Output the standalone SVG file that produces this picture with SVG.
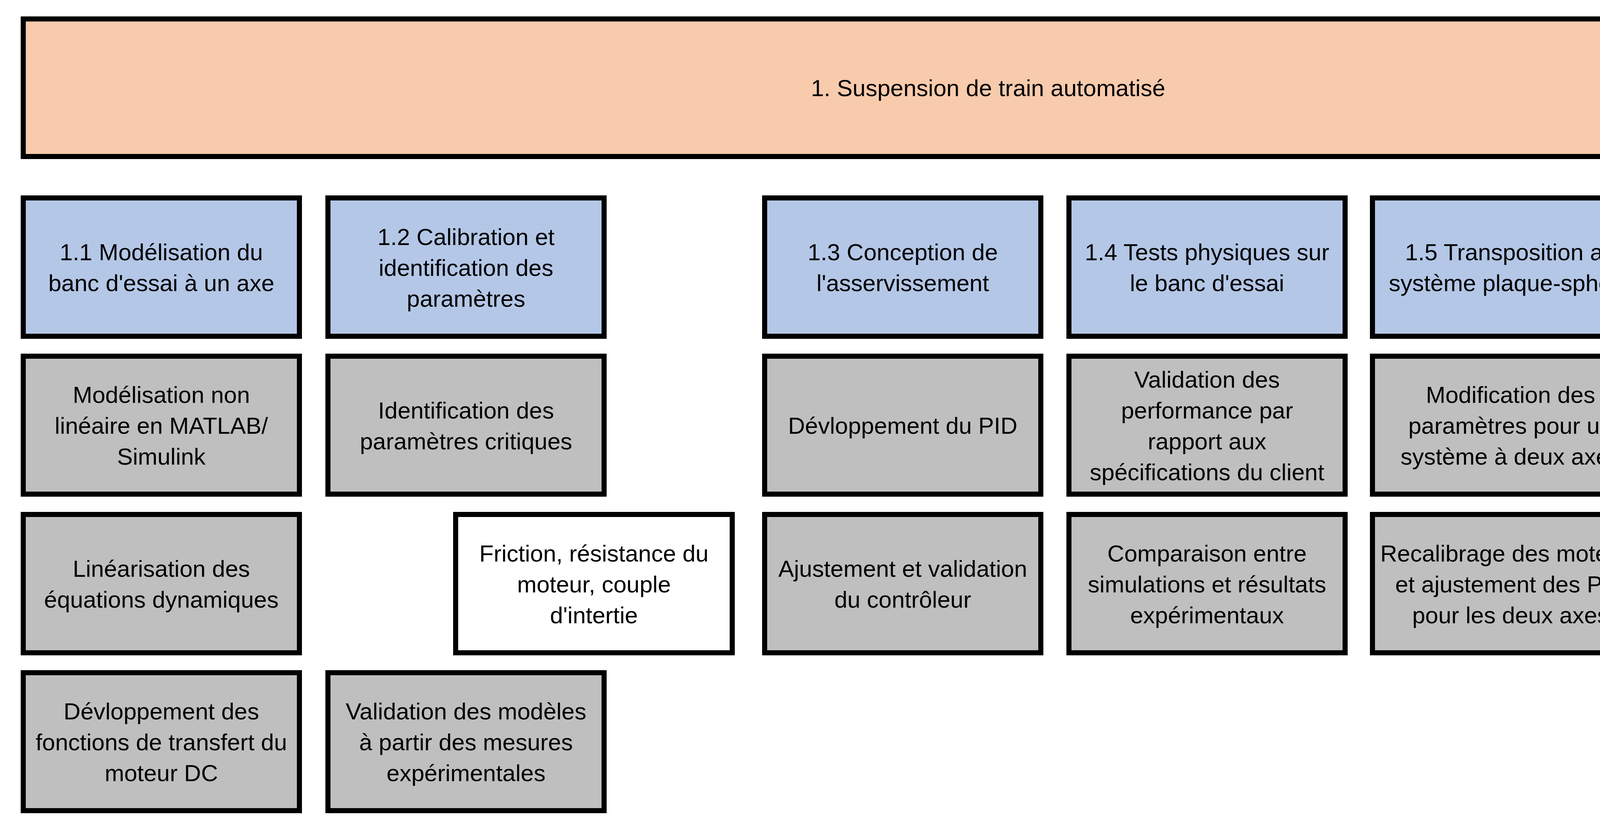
<svg xmlns="http://www.w3.org/2000/svg" width="5378" height="2124" viewBox="0 0 5378 2124">
<style>
rect{stroke:#000;stroke-width:13}
.top{fill:#F8CBAD}
.blue{fill:#B4C7E7}
.gray{fill:#BFBFBF}
.white{fill:#FFFFFF}
text{font-family:"Liberation Sans",Arial,sans-serif;font-size:60px;fill:#000;text-anchor:middle}
</style>
<rect x="0" y="0" width="5378" height="2124" style="fill:#fff;stroke:none"/>
<g id="connectors"/>
<g id="n1"><rect class="top" x="59.5" y="48.5" width="4940" height="352"/><text x="2529.5" y="246">1. Suspension de train automatisé</text></g>

<g id="n1_1"><rect class="blue" x="59.5" y="506.5" width="707" height="354"/><text><tspan x="413" y="666">1.1 Modélisation du</tspan><tspan x="413" y="745">banc d'essai à un axe</tspan></text></g>
<g id="n1_2"><rect class="blue" x="839.5" y="506.5" width="707" height="354"/><text><tspan x="1193" y="626.5">1.2 Calibration et</tspan><tspan x="1193" y="705.5">identification des</tspan><tspan x="1193" y="784.5">paramètres</tspan></text></g>
<g id="n1_3"><rect class="blue" x="1957.5" y="506.5" width="707" height="354"/><text><tspan x="2311" y="666">1.3 Conception de</tspan><tspan x="2311" y="745">l'asservissement</tspan></text></g>
<g id="n1_4"><rect class="blue" x="2736.5" y="506.5" width="707" height="354"/><text><tspan x="3090" y="666">1.4 Tests physiques sur</tspan><tspan x="3090" y="745">le banc d'essai</tspan></text></g>
<g id="n1_5"><rect class="blue" x="3513.5" y="506.5" width="707" height="354"/><text><tspan x="3867" y="666">1.5 Transposition au</tspan><tspan x="3867" y="745">système plaque-sphère</tspan></text></g>
<g id="n1_6"><rect class="blue" x="4294.5" y="506.5" width="707" height="354"/><text x="4648" y="705.5">1.6 Documentation</text></g>

<g id="n1_1_1"><rect class="gray" x="59.5" y="911.5" width="707" height="353"/><text><tspan x="413" y="1031">Modélisation non</tspan><tspan x="413" y="1110">linéaire en MATLAB/</tspan><tspan x="413" y="1189">Simulink</tspan></text></g>
<g id="n1_2_1"><rect class="gray" x="839.5" y="911.5" width="707" height="353"/><text><tspan x="1193" y="1070.5">Identification des</tspan><tspan x="1193" y="1149.5">paramètres critiques</tspan></text></g>
<g id="n1_3_1"><rect class="gray" x="1957.5" y="911.5" width="707" height="353"/><text x="2311" y="1110">Dévloppement du PID</text></g>
<g id="n1_4_1"><rect class="gray" x="2736.5" y="911.5" width="707" height="353"/><text><tspan x="3090" y="991.5">Validation des</tspan><tspan x="3090" y="1070.5">performance par</tspan><tspan x="3090" y="1149.5">rapport aux</tspan><tspan x="3090" y="1228.5">spécifications du client</tspan></text></g>
<g id="n1_5_1"><rect class="gray" x="3513.5" y="911.5" width="707" height="353"/><text><tspan x="3867" y="1031">Modification des</tspan><tspan x="3867" y="1110">paramètres pour un</tspan><tspan x="3867" y="1189">système à deux axes</tspan></text></g>
<g id="n1_6_1"><rect class="gray" x="4294.5" y="911.5" width="707" height="353"/><text><tspan x="4648" y="1070.5">Production de rapport</tspan><tspan x="4648" y="1149.5">pour chaque phase</tspan></text></g>

<g id="n1_1_2"><rect class="gray" x="59.5" y="1316.5" width="707" height="354"/><text><tspan x="413" y="1476">Linéarisation des</tspan><tspan x="413" y="1555">équations dynamiques</tspan></text></g>
<g id="n1_2_note"><rect class="white" x="1166.5" y="1316.5" width="708" height="354"/><text><tspan x="1520.5" y="1436.5">Friction, résistance du</tspan><tspan x="1520.5" y="1515.5">moteur, couple</tspan><tspan x="1520.5" y="1594.5">d'intertie</tspan></text></g>
<g id="n1_3_2"><rect class="gray" x="1957.5" y="1316.5" width="707" height="354"/><text><tspan x="2311" y="1476">Ajustement et validation</tspan><tspan x="2311" y="1555">du contrôleur</tspan></text></g>
<g id="n1_4_2"><rect class="gray" x="2736.5" y="1316.5" width="707" height="354"/><text><tspan x="3090" y="1436.5">Comparaison entre</tspan><tspan x="3090" y="1515.5">simulations et résultats</tspan><tspan x="3090" y="1594.5">expérimentaux</tspan></text></g>
<g id="n1_5_2"><rect class="gray" x="3513.5" y="1316.5" width="707" height="354"/><text><tspan x="3867" y="1436.5">Recalibrage des moteurs</tspan><tspan x="3867" y="1515.5">et ajustement des PID</tspan><tspan x="3867" y="1594.5">pour les deux axes</tspan></text></g>
<g id="n1_6_note"><rect class="white" x="4621.5" y="1316.5" width="707" height="354"/><text><tspan x="4975" y="1436.5">Modélisation,</tspan><tspan x="4975" y="1515.5">simultation, tests</tspan><tspan x="4975" y="1594.5">physiques</tspan></text></g>

<g id="n1_1_3"><rect class="gray" x="59.5" y="1721.5" width="707" height="353"/><text><tspan x="413" y="1841">Dévloppement des</tspan><tspan x="413" y="1920">fonctions de transfert du</tspan><tspan x="413" y="1999">moteur DC</tspan></text></g>
<g id="n1_2_2"><rect class="gray" x="839.5" y="1721.5" width="707" height="353"/><text><tspan x="1193" y="1841">Validation des modèles</tspan><tspan x="1193" y="1920">à partir des mesures</tspan><tspan x="1193" y="1999">expérimentales</tspan></text></g>
<g id="n1_6_2"><rect class="gray" x="4294.5" y="1721.5" width="707" height="353"/><text><tspan x="4648" y="1841">Documentation des</tspan><tspan x="4648" y="1920">résultats comparatifs et</tspan><tspan x="4648" y="1999">ajustements nécessaires</tspan></text></g>
</svg>
